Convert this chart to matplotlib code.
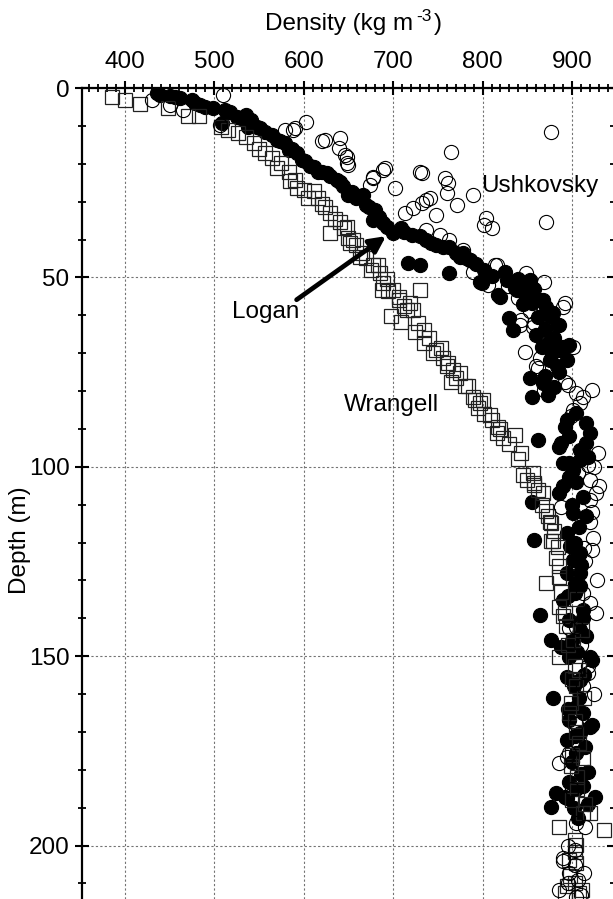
import matplotlib
matplotlib.use("Agg")
import matplotlib.pyplot as plt
from matplotlib.ticker import MultipleLocator

FONT = ['Liberation Sans Narrow', 'Liberation Sans', 'DejaVu Sans']
plt.rcParams['font.family'] = FONT

# ---- Wrangell (open squares): density (kg m-3), depth (m)
wrangell_density = [385, 400, 417, 448, 471, 483, 507, 527, 544, 557, 575, 583, 590, 592, 611, 616,
                    624, 629, 640, 648, 650, 659, 665, 678, 685, 689, 700, 707, 730, 719,
                    629, 652, 663, 683, 687, 694, 707, 715, 722, 698, 709, 724, 734, 735, 748,
                    756, 767, 765, 780, 789, 797, 810, 816,
                    754, 761, 775, 784, 791, 801, 808, 817, 823, 836, 843, 845, 856, 858, 868,
                    871, 877, 879, 884, 871, 886, 892,
                    858, 875, 877, 886, 890, 901, 886, 903,
                    908, 899, 908, 899, 920, 886, 936, 905, 897, 892, 908,
                    912, 903, 903, 905, 894, 911,
                    906, 911, 914, 903, 912, 906, 915,
                    515, 535, 550, 565, 570, 585, 600, 605, 620, 635, 645, 655, 670, 675, 693,
                    712, 728, 740, 745, 760, 770, 795, 802, 820, 830, 840, 850, 862, 866, 873,
                    880, 882, 888, 885, 893, 896, 900, 905, 897, 904, 900, 906, 900, 898, 903]
wrangell_depth = [2.4, 3.1, 4.2, 5.3, 7.4, 7.4, 10.2, 11.9, 14.6, 17.2, 19.9, 22.1, 24.3, 26.5, 27.3, 29.1,
                  31.3, 33.1, 35.3, 36.6, 39.7, 41.4, 43.6, 46.7, 48.9, 51.5, 53.3, 55.1, 53.3, 56.8,
                  38.3, 41.0, 44.5, 46.7, 53.3, 53.7, 55.9, 58.6, 58.6, 60.3, 61.7, 64.3, 63.9, 67.4, 69.1,
                  71.3, 74.4, 77.5, 78.8, 81.5, 83.2, 87.6, 91.1,
                  68.7, 72.6, 75.3, 78.8, 82.3, 82.3, 86.3, 89.4, 92.4, 91.6, 96.4, 102.1, 101.7, 104.8, 107.0,
                  111.8, 114.9, 119.7, 121.1, 130.7, 126.3, 138.6,
                  104.3, 114.5, 119.7, 129.0, 139.5, 145.7, 150.1, 152.7,
                  153.6, 162.4, 173.0, 179.1, 191.4, 195.0, 195.9, 199.8, 203.8, 212.6, 212.6,
                  191.4, 198.5, 201.6, 204.6, 210.8, 211.7,
                  135.0, 143.0, 161.0, 167.0, 177.0, 185.0, 189.0,
                  11.0, 13.0, 16.0, 18.5, 21.0, 24.5, 27.0, 29.0, 30.5, 34.5, 37.0, 40.0, 45.0, 48.0, 50.5,
                  57.5, 62.0, 66.0, 70.0, 73.5, 76.5, 84.5, 86.0, 90.0, 94.0, 98.0, 103.5, 106.0, 110.0, 113.0,
                  117.0, 124.0, 133.0, 137.0, 142.0, 147.0, 156.0, 158.0, 165.0, 170.0, 176.0, 182.0, 188.0, 208.0, 210.0]

# ---- Logan (filled circles)
logan_density = [436, 456, 475, 484, 499, 512, 509, 525, 535, 538, 548, 564, 570, 573, 583, 592, 598,
                 607, 616, 626, 637, 644, 650, 659, 666, 670, 680, 678, 693, 700, 709, 721, 737,
                 717, 730, 763, 748, 763, 778, 786, 802, 797, 817, 775, 782, 825, 827, 819, 836,
                 845, 853, 851, 864, 871, 879, 886, 830, 799, 838, 847, 849, 855, 868, 875, 884,
                 834, 860, 866, 875, 886, 875, 883, 853, 868, 855, 873, 897, 894, 862, 894, 905,
                 916, 920, 897, 888, 909, 918, 890, 901, 855, 858, 864, 892, 886, 897, 909, 916,
                 890, 901, 894, 909, 894, 916, 909, 886, 897, 903, 901, 909, 890, 903, 912, 897,
                 909, 877, 894, 920, 888, 916, 897, 922, 894, 909, 879, 905, 897, 920, 909, 894,
                 905, 918, 897, 912, 882, 892, 926, 877, 907, 922, 894,
                 439, 450, 462, 478, 490, 518, 530, 541, 551, 557, 579, 587, 601, 612, 620, 629,
                 640, 654, 663, 673, 684, 689, 712, 730, 742, 756, 770, 793, 810, 840, 858, 845,
                 862, 870, 880, 890, 878, 886, 870, 880,
                 905, 912, 900, 908, 898, 910, 903, 895, 912, 900, 906, 913, 902, 908, 896, 912,
                 903, 915, 900, 910, 905, 918, 902]
logan_depth = [1.4, 2.3, 3.1, 4.5, 5.3, 5.8, 9.3, 7.6, 7.1, 10.2, 10.2, 12.4, 13.7, 14.1, 16.3, 17.2, 19.0,
               20.7, 22.1, 22.5, 24.3, 26.0, 28.2, 29.1, 28.2, 30.9, 32.2, 34.8, 36.6, 38.3, 37.0, 38.8, 40.1,
               46.3, 46.7, 48.9, 41.4, 41.9, 43.6, 45.4, 48.0, 51.1, 54.6, 44.5, 44.9, 48.5, 50.7, 55.1, 52.9,
               51.5, 50.7, 55.1, 55.9, 57.7, 59.5, 62.5, 60.8, 51.5, 53.3, 51.5, 55.1, 56.8, 55.9, 60.3, 62.5,
               63.9, 65.2, 68.3, 66.5, 69.1, 71.8, 73.5, 76.6, 77.9, 81.5, 81.0, 67.8, 71.8, 92.9, 87.6, 85.9,
               88.5, 91.1, 92.0, 93.8, 95.5, 97.3, 99.0, 100.8, 109.2, 119.3, 139.1, 89.4, 94.7, 99.0, 98.2, 93.8,
               105.2, 112.2, 117.5, 122.8, 128.1, 113.1, 131.6, 107.0, 102.6, 120.2, 124.6, 128.1, 135.1, 133.4, 137.8, 140.4,
               143.1, 145.7, 147.5, 150.1, 147.5, 144.8, 150.1, 151.0, 155.4, 156.3, 161.1, 163.3, 166.8, 168.6, 170.3, 172.1,
               175.6, 180.5, 183.1, 184.4, 186.2, 187.1, 187.1, 189.7, 192.8, 168.1, 187.5,
               1.8, 2.1, 2.6, 3.9, 5.0, 6.3, 7.9, 8.4, 10.5, 11.6, 14.6, 16.0, 19.2, 20.9, 22.1, 23.2,
               24.8, 27.4, 28.5, 31.5, 34.0, 35.6, 38.0, 39.2, 41.0, 42.0, 43.5, 46.5, 49.5, 50.5, 53.0, 57.0,
               60.5, 63.5, 66.0, 68.5, 70.0, 75.0, 76.0, 79.0,
               104.0, 108.0, 110.0, 116.0, 121.0, 126.0, 131.0, 134.0, 140.0, 146.0, 149.0, 155.0, 158.0, 161.0, 164.0, 165.0,
               171.0, 174.0, 178.0, 181.0, 185.0, 189.0, 190.0]

# ---- Ushkovsky (open circles)
ushkovsky_density = [430, 450, 465, 510, 506, 579, 588, 603, 624, 640, 639, 648, 648, 650, 646, 674, 678,
                     590, 620, 689, 678, 702, 730, 713, 722, 732, 737, 877, 765, 691, 732, 758, 761,
                     760, 789, 771, 741, 748, 804, 802, 810, 871, 737, 752, 763, 778, 786, 789, 816,
                     849, 869, 806, 828, 840, 892, 890, 843, 858, 814, 853, 842, 856, 847, 860, 864,
                     892, 896, 901, 869, 905, 912, 922, 909, 901, 899, 929, 918, 862, 920, 927, 920,
                     923, 922, 912, 927, 888, 907, 920, 914, 897, 905, 918, 886, 894, 897, 918, 912,
                     905, 890, 897, 914, 896, 907, 886, 905, 903, 890, 903,
                     925, 930, 922, 915, 928, 920, 910, 925, 905, 900, 915, 895, 910]
ushkovsky_depth = [3.1, 4.5, 5.8, 1.8, 9.7, 11.1, 11.1, 8.9, 13.7, 13.3, 15.9, 18.1, 19.9, 20.3, 17.7, 25.6, 23.8,
                   10.6, 14.1, 21.6, 23.4, 26.5, 22.1, 33.1, 31.7, 30.4, 29.5, 11.5, 16.8, 21.2, 22.5, 23.8, 25.1,
                   27.8, 28.2, 30.9, 29.1, 33.5, 34.4, 36.1, 37.0, 35.3, 37.5, 38.8, 40.1, 42.7, 45.4, 48.5, 46.7,
                   48.9, 51.1, 52.0, 52.4, 55.5, 56.8, 57.7, 61.2, 62.1, 46.7, 59.0, 62.5, 63.0, 69.6, 73.5, 71.3,
                   77.5, 78.4, 68.3, 79.7, 80.6, 81.5, 79.7, 83.2, 85.0, 86.7, 96.4, 99.5, 74.0, 103.5, 107.0, 108.7,
                   118.8, 121.9, 133.4, 138.6, 110.5, 101.7, 114.5, 121.5, 142.6, 142.2, 152.7, 178.2, 176.5, 175.6, 154.5, 158.0,
                   194.1, 204.2, 207.3, 207.3, 209.9, 209.1, 211.7, 213.5, 201.1, 203.3, 205.1,
                   100.0, 105.0, 112.0, 125.0, 130.0, 136.0, 147.0, 160.0, 168.0, 185.0, 195.0, 200.0, 213.0]

x_major_ticks = [400, 500, 600, 700, 800, 900]
y_major_ticks = [0, 50, 100, 150, 200]

W, H = 613, 899
fig = plt.figure(figsize=(W / 100, H / 100), dpi=100)
left_px, right_px, top_px, bottom_px = 82, 614, 88, 899
ax = fig.add_axes([left_px / W, 1 - bottom_px / H, (right_px - left_px) / W, (bottom_px - top_px) / H])

ax.plot(logan_density, logan_depth, 'o', ms=10.2, mfc='black', mec='black', mew=0.8, zorder=3)
ax.plot(wrangell_density, wrangell_depth, 's', ms=9.6, mfc='none', mec='#222222', mew=0.9, zorder=4)
ax.plot(ushkovsky_density, ushkovsky_depth, 'o', ms=10.2, mfc='none', mec='black', mew=0.8, zorder=5)

ax.set_xlim(352, 947)
ax.set_ylim(214.1, 0)

ax.xaxis.tick_top()
ax.set_xticks(x_major_ticks)
ax.set_yticks(y_major_ticks)
ax.xaxis.set_minor_locator(MultipleLocator(10))
ax.yaxis.set_minor_locator(MultipleLocator(10))
ax.tick_params(axis='both', which='major', direction='inout', length=10, width=1.5, labelsize=17.5, color='black')
ax.tick_params(axis='both', which='minor', direction='inout', length=6, width=1.3, color='black')
ax.tick_params(axis='x', which='both', top=True, bottom=False, pad=6)
ax.tick_params(axis='y', which='both', left=True, right=True, labelright=False, pad=4)

for s in ['top', 'left', 'right']:
    ax.spines[s].set_linewidth(1.6)
ax.spines['bottom'].set_visible(False)

ax.grid(True, which='major', color='0.45', linestyle=(0, (2, 2)), linewidth=0.8)
ax.set_axisbelow(True)

# x-axis title with a raised "-3"
fig.text(413 / W, 1 - 30 / H, 'Density (kg m', ha='right', va='baseline', fontsize=17.5)
fig.text(416 / W, 1 - 21 / H, '-3', ha='left', va='baseline', fontsize=12.5)
fig.text(434 / W, 1 - 30 / H, ')', ha='left', va='baseline', fontsize=17.5)
fig.text(20 / W, 1 - 540 / H, 'Depth (m)', ha='center', va='center', rotation=90, fontsize=17.5)

ax.text(864, 25.8, 'Ushkovsky', ha='center', va='center', fontsize=17.5)
ax.text(698, 83.7, 'Wrangell', ha='center', va='center', fontsize=17.5)
ax.text(557, 59.1, 'Logan', ha='center', va='center', fontsize=17.5)
ax.annotate('', xy=(692, 39.1), xytext=(592, 55.9),
            arrowprops=dict(arrowstyle='-|>', lw=3.4, color='black', mutation_scale=24,
                            shrinkA=0, shrinkB=0), zorder=6)

fig.savefig('out.png', dpi=100)
